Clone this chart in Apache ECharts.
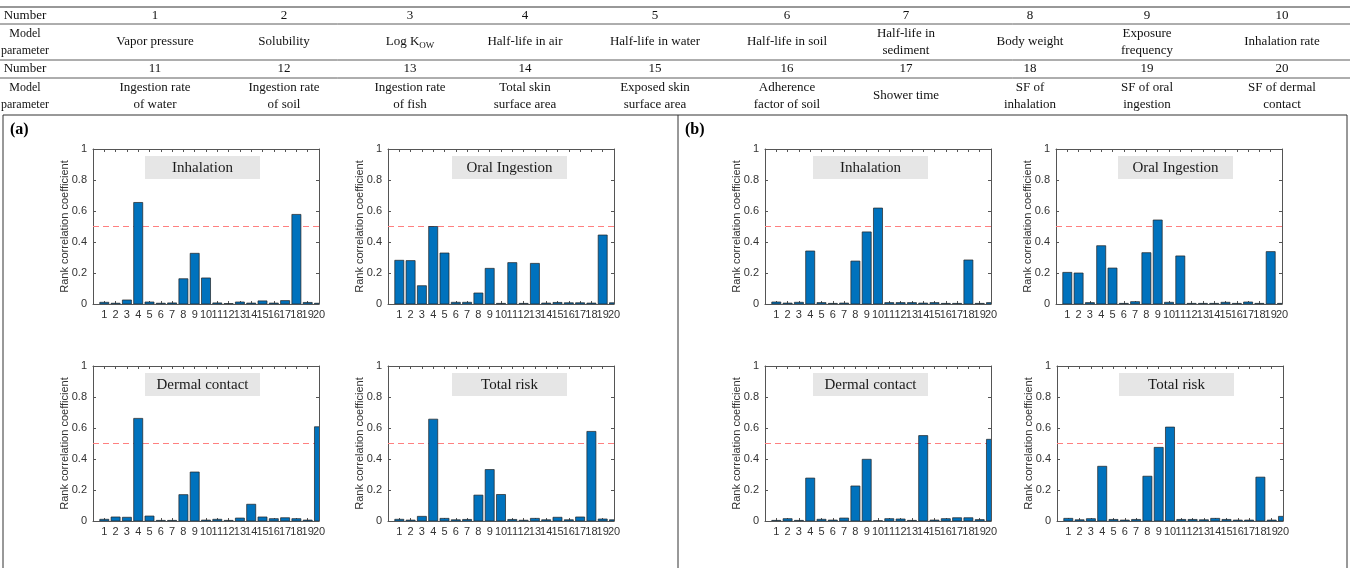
<!DOCTYPE html>
<html><head><meta charset="utf-8">
<script src="https://cdn.jsdelivr.net/npm/echarts@6/dist/echarts.min.js"></script>
<style>html,body{margin:0;padding:0;background:#fff}#c{width:1350px;height:568px}</style>
</head><body><div id="c"></div>
<script>
// ---------- data ----------
const numbersRow1 = ['1','2','3','4','5','6','7','8','9','10'];
const paramsRow1 = ['Vapor pressure','Solubility','Log K_OW','Half-life in air','Half-life in water','Half-life in soil','Half-life in\nsediment','Body weight','Exposure\nfrequency','Inhalation rate'];
const numbersRow2 = ['11','12','13','14','15','16','17','18','19','20'];
const paramsRow2 = ['Ingestion rate\nof water','Ingestion rate\nof soil','Ingestion rate\nof fish','Total skin\nsurface area','Exposed skin\nsurface area','Adherence\nfactor of soil','Shower time','SF of\ninhalation','SF of oral\ningestion','SF of dermal\ncontact'];
const xTicks = [1,2,3,4,5,6,7,8,9,10,11,12,13,14,15,16,17,18,19,20];
const yTicks = [0,0.2,0.4,0.6,0.8,1];
const panelTitles = ['Inhalation','Oral Ingestion','Dermal contact','Total risk'];
const panelLabels = ['(a)','(b)'];
const yAxisTitle = 'Rank correlation coefficient';
const threshold = 0.5;

const aInhalation = [0.011,0.005,0.026,0.655,0.013,0.005,0.007,0.163,0.327,0.168,0.007,0.003,0.013,0.006,0.020,0.006,0.022,0.578,0.010,0.005];
const aOral       = [0.282,0.280,0.118,0.500,0.329,0.011,0.011,0.071,0.230,0.004,0.267,0.004,0.262,0.006,0.010,0.008,0.008,0.006,0.445,0.008];
const aDermal     = [0.011,0.026,0.024,0.662,0.032,0.004,0.004,0.170,0.316,0.006,0.011,0.004,0.019,0.108,0.026,0.015,0.021,0.015,0.006,0.608];
const aTotal      = [0.011,0.006,0.030,0.657,0.017,0.008,0.010,0.167,0.332,0.171,0.010,0.005,0.017,0.008,0.024,0.008,0.026,0.578,0.013,0.008];
const bInhalation = [0.013,0.006,0.011,0.342,0.009,0.004,0.006,0.277,0.465,0.619,0.009,0.009,0.009,0.006,0.009,0.004,0.004,0.284,0.004,0.009];
const bOral       = [0.204,0.200,0.009,0.376,0.232,0.004,0.015,0.331,0.542,0.011,0.310,0.004,0.004,0.004,0.011,0.004,0.013,0.004,0.338,0.004];
const bDermal     = [0.004,0.015,0.004,0.277,0.011,0.006,0.019,0.226,0.398,0.002,0.015,0.013,0.004,0.551,0.006,0.015,0.021,0.021,0.009,0.527];
const bTotal      = [0.017,0.008,0.015,0.353,0.010,0.006,0.010,0.289,0.475,0.606,0.010,0.010,0.008,0.017,0.010,0.006,0.006,0.283,0.006,0.030];

// ---------- layout / style ----------
const panels = [aInhalation, aOral, aDermal, aTotal, bInhalation, bOral, bDermal, bTotal];
const gridLeft = [93,388,93,388,765,1056,765,1057];
const gridTop  = [149,149,366,366,149,149,366,366];
const GW = 226, GH = 155;
const boxX = [145,452,145,452,813,1118,813,1119];
const boxW = 115, boxH = 23, boxDy = 7;
const sans = '"Liberation Sans", Arial, sans-serif';
const serif = '"Liberation Serif", "Times New Roman", serif';
const axisColor = '#555';
const labelColor = '#333';
const barHalf = 0.4;
const labelCats = [''].concat(xTicks.map(String));

const grids = [], xAxes = [], yAxes = [], seriesList = [], graphics = [];

panels.forEach((d, i) => {
  grids.push({left: gridLeft[i], top: gridTop[i], width: GW, height: GH, containLabel: false});
  const xBase = {type:'value', gridIndex:i, min:0, max:20, interval:1, splitLine:{show:false},
    axisLine:{show:true, onZero:false, lineStyle:{color:axisColor, width:1}},
    axisTick:{show:true, inside:true, length:3, lineStyle:{color:axisColor}}};
  const xi = xAxes.length;
  xAxes.push(Object.assign({}, xBase, {position:'bottom', axisLabel:{show:false}}));
  xAxes.push(Object.assign({}, xBase, {position:'top', axisLabel:{show:false}}));
  // label axis: every tick label shown
  xAxes.push({type:'category', gridIndex:i, position:'bottom', data: labelCats, boundaryGap:false,
    axisLine:{show:false}, axisTick:{show:false}, splitLine:{show:false},
    axisLabel:{show:true, interval:0, margin:5, fontSize:11, color:labelColor, fontFamily:sans}});
  const yBase = {type:'value', gridIndex:i, min:yTicks[0], max:yTicks[yTicks.length-1], interval:0.2, splitLine:{show:false},
    axisLine:{show:true, onZero:false, lineStyle:{color:axisColor, width:1}},
    axisTick:{show:true, inside:true, length:3, lineStyle:{color:axisColor}}};
  const yi = yAxes.length;
  yAxes.push(Object.assign({}, yBase, {position:'left',
    name: yAxisTitle, nameLocation:'middle', nameGap:23, nameRotate:90, nameMoveOverlap:false,
    nameTextStyle:{fontSize:11, color:labelColor, fontFamily:sans},
    axisLabel:{show:true, margin:6, fontSize:11, color:labelColor, fontFamily:sans,
      showMinLabel:true, showMaxLabel:true,
      formatter: v => String(+(+v).toFixed(1))}}));
  yAxes.push(Object.assign({}, yBase, {position:'right', axisLabel:{show:false}}));
  // threshold dashed line (behind bars)
  seriesList.push({type:'line', xAxisIndex:xi, yAxisIndex:yi, z:1, silent:true, animation:false,
    symbol:'none', data:[[0, threshold],[20, threshold]],
    lineStyle:{color:'#ff8080', type:[6,4], width:1}});
  // bars
  seriesList.push({type:'custom', xAxisIndex:xi, yAxisIndex:yi, z:2, clip:true, animation:false,
    data: d.map((v,k) => [xTicks[k], v]),
    encode:{x:0, y:1},
    renderItem: (params, api) => {
      const x = api.value(0), y = api.value(1);
      const p0 = api.coord([x - barHalf, 0]);
      const p1 = api.coord([x + barHalf, y]);
      return {type:'rect', shape:{x:p0[0], y:p1[1], width:p1[0]-p0[0], height:p0[1]-p1[1]},
        style:{fill:'#0072BD', stroke:'#222', lineWidth:0.7}};
    }});
  graphics.push({type:'rect', shape:{x:boxX[i], y:gridTop[i]+boxDy, width:boxW, height:boxH}, style:{fill:'#e6e6e6'}, z:10});
  graphics.push({type:'text', x: boxX[i]+boxW/2, y: gridTop[i]+boxDy+boxH/2+1, z:11,
    style:{text: panelTitles[i%4], font:'15px '+serif, fill:'#1a1a1a', align:'center', verticalAlign:'middle'}});
});

// ---------- table ----------
const colX = [155,284,410,525,655,787,906,1030,1147,1282];
const hLines = [7,24,60,78];
hLines.forEach(y => graphics.push({type:'line', shape:{x1:0,y1:y,x2:1350,y2:y}, style:{stroke:'#333', lineWidth: y===7?1.2:0.8}}));
const tfont = '13px ' + serif;
function addText(txt, x, y, font) {
  const f = font || tfont;
  if (txt === 'Log K_OW') {
    graphics.push({type:'text', x:x, y:y, style:{text:'{n|Log K}{s|OW}', align:'center', verticalAlign:'middle', fill:'#111',
      rich:{n:{font:f, fill:'#111', lineHeight:16, verticalAlign:'middle'}, s:{font:'9px '+serif, fill:'#111', lineHeight:16, verticalAlign:'bottom', padding:[8,0,0,0]}}}});
    return;
  }
  graphics.push({type:'text', x:x, y:y, style:{text:txt, font:f, fill:'#111', align:'center', verticalAlign:'middle', lineHeight:17}});
}
const hfont = '12px ' + serif;
addText('Number', 25, 16, tfont);
addText('Model\nparameter', 25, 42, hfont);
addText('Number', 25, 69, tfont);
addText('Model\nparameter', 25, 96, hfont);
colX.forEach((x,k) => {
  addText(numbersRow1[k], x, 16);
  addText(paramsRow1[k], x, 42);
  addText(numbersRow2[k], x, 69);
  addText(paramsRow2[k], x, 96);
});

// ---------- panel frames ----------
graphics.push({type:'polyline', shape:{points:[[3,568],[3,115],[1347,115],[1347,568]]}, style:{stroke:'#333', lineWidth:1, fill:null}});
graphics.push({type:'line', shape:{x1:678,y1:115,x2:678,y2:568}, style:{stroke:'#333', lineWidth:1}});
graphics.push({type:'text', x:10, y:130, style:{text:panelLabels[0], font:'bold 16px '+serif, fill:'#000', verticalAlign:'middle'}});
graphics.push({type:'text', x:685, y:130, style:{text:panelLabels[1], font:'bold 16px '+serif, fill:'#000', verticalAlign:'middle'}});

const chart = echarts.init(document.getElementById('c'), null, {renderer:'canvas'});
chart.setOption({
  backgroundColor:'#fff',
  animation:false,
  grid: grids, xAxis: xAxes, yAxis: yAxes, series: seriesList, graphic: graphics
});
</script>
</body></html>
